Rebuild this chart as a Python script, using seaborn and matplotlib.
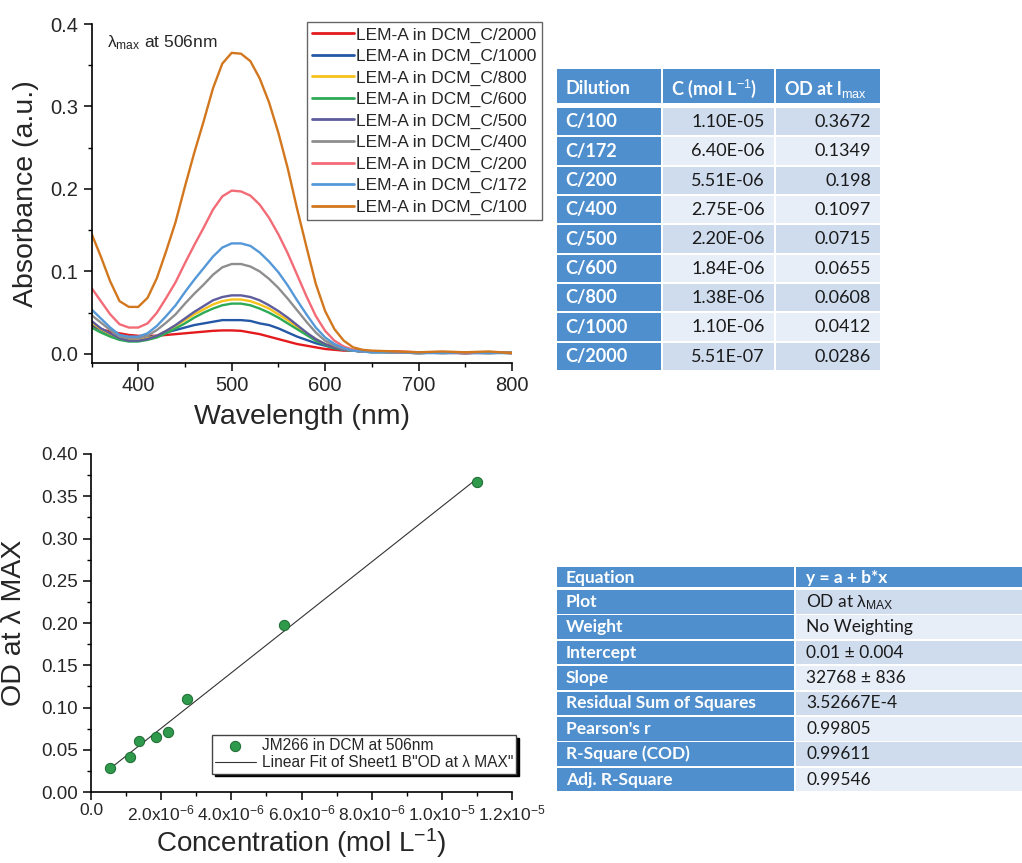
import numpy as np
import pandas as pd
import matplotlib
matplotlib.use('Agg')
import matplotlib.pyplot as plt
from matplotlib.patches import Rectangle
from matplotlib.ticker import MultipleLocator
import seaborn as sns

# ---- UV-Vis spectra ----
wavelength = [350, 360, 370, 380, 390, 400, 410, 420, 430, 440, 450, 460, 470, 480, 490,
              500, 510, 520, 530, 540, 550, 560, 570, 580, 590, 600, 610, 620, 630, 640,
              650, 675, 700, 725, 750, 775, 800]
abs_c2000 = [.034, .030, .027, .025, .023, .022, .022, .022, .023, .024, .025, .026, .027, .028, .0285,
             .0285, .028, .026, .024, .021, .018, .015, .012, .010, .008, .006, .005, .004, .004, .003,
             .003, .003, .002, .002, .001, .002, .002]
abs_c1000 = [.036, .029, .023, .020, .019, .019, .020, .022, .026, .029, .032, .035, .037, .039, .041,
             .041, .041, .040, .037, .035, .031, .026, .021, .017, .013, .010, .007, .005, .004, .003,
             .003, .002, .001, .002, .001, .001, .002]
abs_c800 = [.038, .030, .024, .019, .017, .017, .019, .022, .028, .034, .041, .048, .054, .060, .064,
            .066, .066, .064, .060, .055, .048, .041, .033, .025, .018, .012, .008, .005, .004, .003,
            .003, .002, .002, .001, .002, .001, .002]
abs_c600 = [.032, .026, .021, .017, .015, .015, .017, .020, .025, .031, .037, .044, .050, .055, .059,
            .061, .061, .059, .055, .050, .044, .037, .030, .023, .016, .011, .007, .005, .004, .003,
            .002, .002, .001, .002, .001, .002, .001]
abs_c500 = [.040, .031, .025, .019, .016, .016, .018, .022, .028, .035, .043, .051, .058, .065, .069,
            .071, .071, .069, .065, .059, .052, .044, .035, .026, .018, .012, .008, .005, .004, .003,
            .003, .002, .002, .001, .001, .002, .001]
abs_c400 = [.047, .038, .029, .021, .019, .019, .022, .029, .038, .048, .061, .073, .084, .096, .105,
            .109, .109, .106, .100, .091, .080, .067, .053, .039, .026, .016, .010, .006, .004, .003,
            .002, .002, .001, .002, .002, .001, .002]
abs_c200 = [.080, .064, .048, .036, .032, .032, .037, .050, .068, .087, .110, .132, .153, .175, .191,
            .198, .197, .192, .181, .165, .145, .122, .096, .070, .046, .028, .016, .009, .005, .003,
            .003, .002, .001, .002, .001, .002, .001]
abs_c172 = [.054, .043, .032, .023, .021, .021, .025, .034, .046, .059, .075, .090, .104, .118, .129,
            .134, .134, .131, .123, .112, .099, .083, .065, .048, .032, .020, .012, .007, .004, .003,
            .002, .002, .001, .001, .002, .001, .001]
abs_c100 = [.146, .118, .088, .064, .057, .057, .068, .092, .125, .160, .203, .244, .282, .322, .352,
            .365, .364, .355, .334, .305, .268, .225, .176, .130, .085, .052, .030, .016, .008, .005,
            .004, .003, .002, .003, .002, .003, .001]

series_labels = ['LEM-A in DCM_C/2000', 'LEM-A in DCM_C/1000', 'LEM-A in DCM_C/800',
                 'LEM-A in DCM_C/600', 'LEM-A in DCM_C/500', 'LEM-A in DCM_C/400',
                 'LEM-A in DCM_C/200', 'LEM-A in DCM_C/172', 'LEM-A in DCM_C/100']
series_colors = ['#e41a1c', '#2458a6', '#f7c21a', '#2eaa55', '#5e5c9c',
                 '#8e8e8e', '#f36b76', '#5598d8', '#d2771e']

# ---- dilution table ----
dilution = ['C/100', 'C/172', 'C/200', 'C/400', 'C/500', 'C/600', 'C/800', 'C/1000', 'C/2000']
conc_table = [1.10e-5, 6.40e-6, 5.51e-6, 2.75e-6, 2.20e-6, 1.84e-6, 1.38e-6, 1.10e-6, 5.51e-7]
od_table = [0.3672, 0.1349, 0.198, 0.1097, 0.0715, 0.0655, 0.0608, 0.0412, 0.0286]
table_header = ['Dilution', 'C (mol L$^{-1}$)', r'OD at l$\mathrm{_{max}}$']

# ---- calibration points (C/172 is not on the plot) ----
plot_conc = [5.51e-7, 1.10e-6, 1.38e-6, 1.84e-6, 2.20e-6, 2.75e-6, 5.51e-6, 1.10e-5]
plot_od = [0.0286, 0.0412, 0.0608, 0.0655, 0.0715, 0.1097, 0.198, 0.3672]
conc_ticklabels = ['0.0', '2.0x10$^{-6}$', '4.0x10$^{-6}$', '6.0x10$^{-6}$',
                   '8.0x10$^{-6}$', '1.0x10$^{-5}$', '1.2x10$^{-5}$']

# ---- fit table ----
fit_keys = ['Equation', 'Plot', 'Weight', 'Intercept', 'Slope', 'Residual Sum of Squares',
            "Pearson's r", 'R-Square (COD)', 'Adj. R-Square']
fit_vals = ['y = a + b*x', r'OD at $\mathrm{\lambda_{MAX}}$', 'No Weighting', '0.01 ± 0.004',
            '32768 ± 836', '3.52667E-4', '0.99805', '0.99611', '0.99546']

sns.set_style('ticks')
plt.rcParams['font.family'] = ['Liberation Sans', 'DejaVu Sans']
plt.rcParams['mathtext.fontset'] = 'custom'
plt.rcParams['mathtext.rm'] = 'Liberation Sans'
plt.rcParams['mathtext.it'] = 'Liberation Sans:italic'
plt.rcParams['mathtext.bf'] = 'Liberation Sans:bold'
plt.rcParams['axes.linewidth'] = 1.2

W, H = 1022, 863
fig = plt.figure(figsize=(W / 100, H / 100), dpi=100)


def box(l, t, r, b):
    return [l / W, 1 - b / H, (r - l) / W, (b - t) / H]


def style_axis(ax, size):
    sns.despine(ax=ax)
    ax.tick_params(which='major', direction='out', length=6, width=1.1, labelsize=size, color='k')
    ax.tick_params(which='minor', direction='out', length=3, width=1.0, color='k')
    for s in ['left', 'bottom']:
        ax.spines[s].set_color('k')


# top: spectra
wide = pd.DataFrame({'Wavelength': wavelength})
for lab, vals in zip(series_labels, [abs_c2000, abs_c1000, abs_c800, abs_c600, abs_c500,
                                     abs_c400, abs_c200, abs_c172, abs_c100]):
    wide[lab] = vals
df = wide.melt(id_vars='Wavelength', var_name='series', value_name='Absorbance')

ax1 = fig.add_axes(box(91.5, 24, 512, 363))
sns.lineplot(data=df, x='Wavelength', y='Absorbance', hue='series', hue_order=series_labels,
             palette=series_colors, lw=1.7, estimator=None, ax=ax1)
ax1.set_xlim(350, 800)
ax1.set_ylim(-0.011, 0.4)
ax1.set_xticks([400, 500, 600, 700, 800])
ax1.xaxis.set_minor_locator(MultipleLocator(50))
ax1.set_yticks([0.0, 0.1, 0.2, 0.3, 0.4])
ax1.set_yticklabels(['0.0', '0.1', '0.2', '0.3', '0.4'])
ax1.yaxis.set_minor_locator(MultipleLocator(0.05))
style_axis(ax1, 14.5)
ax1.set_xlabel('Wavelength (nm)', fontsize=20.5, labelpad=6)
ax1.set_ylabel('Absorbance (a.u.)', fontsize=20.5, labelpad=8)
ax1.text(0.036, 0.945, r'$\mathrm{\lambda_{max}}$ at 506nm', transform=ax1.transAxes,
         fontsize=12.5, va='center', ha='left')
h, l = ax1.get_legend_handles_labels()
for hd in h:
    hd.set_linewidth(2)
ax1.legend(h, l, loc='upper left', bbox_to_anchor=(307 / W, 1 - 22 / H),
           bbox_transform=fig.transFigure, fontsize=12.5, frameon=True, fancybox=False,
           edgecolor='#666666', framealpha=1, borderaxespad=0, handlelength=2.4,
           handletextpad=0.15, labelspacing=0.36, borderpad=0.3)

# bottom: calibration
ax2 = fig.add_axes(box(91, 454, 512, 792))
sns.regplot(x=plot_conc, y=plot_od, ax=ax2, scatter=False, ci=None, truncate=True,
            label='Linear Fit of Sheet1 B"OD at λ MAX"', line_kws=dict(color='#333333', lw=0.8))
sns.scatterplot(x=plot_conc, y=plot_od, ax=ax2, s=55, color='#2f9a4b', edgecolor='#1b6a31',
                linewidth=0.7, zorder=3, label='JM266 in DCM at 506nm')
ax2.set_xlim(0, 1.2e-5)
ax2.set_ylim(0, 0.4)
ax2.set_xticks([0, 2e-6, 4e-6, 6e-6, 8e-6, 1e-5, 1.2e-5])
ax2.set_xticklabels(conc_ticklabels)
ax2.xaxis.set_minor_locator(MultipleLocator(1e-6))
ax2.set_yticks([0, 0.05, 0.1, 0.15, 0.2, 0.25, 0.3, 0.35, 0.4])
ax2.set_yticklabels(['%.2f' % v for v in ax2.get_yticks()])
ax2.yaxis.set_minor_locator(MultipleLocator(0.025))
style_axis(ax2, 13.5)
ax2.tick_params(axis='x', labelsize=12.5, pad=2)
ax2.set_xlabel('Concentration (mol L$^{-1}$)', fontsize=20, labelpad=2)
ax2.set_ylabel('OD at λ MAX', fontsize=20.5, labelpad=10)
h2, l2 = ax2.get_legend_handles_labels()
order = [l2.index('JM266 in DCM at 506nm'), l2.index('Linear Fit of Sheet1 B"OD at λ MAX"')]
ax2.legend([h2[i] for i in order], [l2[i] for i in order], loc='upper left',
           bbox_to_anchor=(212 / W, 1 - 735 / H), bbox_transform=fig.transFigure,
           fontsize=11.2, frameon=True, fancybox=False, edgecolor='#444444', framealpha=1,
           shadow={'color': 'black', 'alpha': 1}, borderaxespad=0, handlelength=2.6,
           handletextpad=0.4, labelspacing=0.15, borderpad=0.2)

# tables
blue = '#4f8fce'
light = ['#cfdcee', '#e8eef7']
tfont = ['Lato', 'DejaVu Sans']

ax3 = fig.add_axes(box(557, 69, 880, 372))
ax3.set_xlim(0, 323)
ax3.set_ylim(303, 0)
ax3.axis('off')
cols = [(0, 104), (106, 217), (219, 323)]
for (c0, c1), txt in zip(cols, table_header):
    ax3.add_patch(Rectangle((c0, 0), c1 - c0, 34, color=blue, lw=0))
    ax3.text(c0 + 8, 20, txt, color='white', fontweight='bold', fontsize=13,
             family=tfont, va='center', ha='left')
for i, (d, c, o) in enumerate(zip(dilution, conc_table, od_table)):
    top = 39 + i * 29.33
    ax3.add_patch(Rectangle((cols[0][0], top), cols[0][1] - cols[0][0], 27.5, color=blue, lw=0))
    for (c0, c1) in cols[1:]:
        ax3.add_patch(Rectangle((c0, top), c1 - c0, 27.5, color=light[i % 2], lw=0))
    ym = top + 14
    ax3.text(8, ym, d, color='white', fontweight='bold', fontsize=13, family=tfont,
             va='center', ha='left')
    ax3.text(208, ym, '%.2E' % c, color='#1a1a1a', fontsize=13, family=tfont,
             va='center', ha='right')
    ax3.text(314, ym, str(o), color='#1a1a1a', fontsize=13, family=tfont,
             va='center', ha='right')

ax4 = fig.add_axes(box(557, 567, 1022, 793))
ax4.set_xlim(0, 465)
ax4.set_ylim(226, 0)
ax4.axis('off')
fcols = [(0, 237), (239, 465)]
for i, (k, v) in enumerate(zip(fit_keys, fit_vals)):
    if i == 0:
        top, hgt = 0, 20
        bg = blue
        vcol, vw = 'white', 'bold'
    else:
        top, hgt = 23 + (i - 1) * 25.4, 23.5
        bg = light[(i - 1) % 2]
        vcol, vw = '#1a1a1a', 'normal'
    ax4.add_patch(Rectangle((fcols[0][0], top), fcols[0][1] - fcols[0][0], hgt, color=blue, lw=0))
    ax4.add_patch(Rectangle((fcols[1][0], top), fcols[1][1] - fcols[1][0], hgt, color=bg, lw=0))
    ym = top + hgt / 2 + (1 if i == 0 else 0)
    ax4.text(9, ym, k, color='white', fontweight='bold', fontsize=12.5, family=tfont,
             va='center', ha='left', clip_on=True)
    ax4.text(249, ym, v, color=vcol, fontweight=vw, fontsize=12.5, family=tfont,
             va='center', ha='left', clip_on=True)

fig.savefig('out.png', dpi=100)
